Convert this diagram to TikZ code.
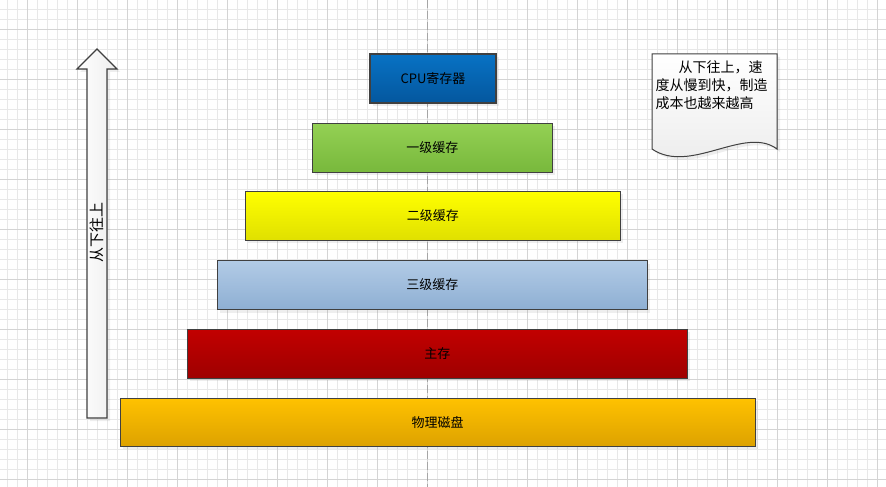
\documentclass[tikz,border=0pt]{standalone}
\usepackage{fontspec}
\setmainfont{Noto Sans CJK SC}
\usetikzlibrary{shadows}

\definecolor{regTop}{HTML}{0872C4}
\definecolor{regBottom}{HTML}{04579E}
\definecolor{oneTop}{HTML}{94D154}
\definecolor{oneBottom}{HTML}{78B83C}
\definecolor{twoTop}{HTML}{FFFF00}
\definecolor{twoBottom}{HTML}{E0E000}
\definecolor{threeTop}{HTML}{B2CBE6}
\definecolor{threeBottom}{HTML}{8EAFD3}
\definecolor{memTop}{HTML}{C20000}
\definecolor{memBottom}{HTML}{9E0000}
\definecolor{diskTop}{HTML}{FFC200}
\definecolor{diskBottom}{HTML}{DDA200}
\definecolor{edgeGray}{HTML}{404040}

\begin{document}
\begin{tikzpicture}[x = 1pt, y = -1pt]
\tikzstyle{gridStyle} = [draw = black!9, line width = 0.8pt]
\tikzstyle{majorGridStyle} = [draw = black!17, line width = 0.8pt]
\tikzstyle{levelStyle} = [shape = rectangle, draw = edgeGray, line width = 1.2pt, minimum height = 49pt, inner sep = 0pt, font = \fontsize{13pt}{15pt}\selectfont, drop shadow = {shadow xshift = 3pt, shadow yshift = -3pt, opacity = 0.13}]
\tikzstyle{arrowStyle} = [draw = edgeGray, line width = 1.2pt, left color = white, right color = black!7, drop shadow = {shadow xshift = 3pt, shadow yshift = -3pt, opacity = 0.13}]
\tikzstyle{noteStyle} = [draw = edgeGray, line width = 1pt, top color = white, bottom color = black!8, drop shadow = {shadow xshift = 3pt, shadow yshift = -3pt, opacity = 0.13}]
\useasboundingbox (0,0) rectangle (886,487);
\fill[white] (0,0) rectangle (886,487);
% grid
\foreach \x in {7,17,...,887} \draw[gridStyle] (\x,0) -- (\x,487);
\foreach \y in {9,19,...,479} \draw[gridStyle] (0,\y) -- (886,\y);
\foreach \x in {27,77,...,877} \draw[majorGridStyle] (\x,0) -- (\x,487);
\foreach \y in {29,79,...,479} \draw[majorGridStyle] (0,\y) -- (886,\y);
\draw[black!35, line width = 1pt, dash pattern = on 8pt off 3pt] (427,0) -- (427,487);
% levels
\node[levelStyle, minimum width = 126pt, top color = regTop, bottom color = regBottom] (reg) at (433, 78.5) {CPU寄存器};
\node[levelStyle, minimum width = 240pt, top color = oneTop, bottom color = oneBottom] (cacheOne) at (432.3, 147.6) {一级缓存};
\node[levelStyle, minimum width = 375pt, top color = twoTop, bottom color = twoBottom] (cacheTwo) at (432.8, 215.6) {二级缓存};
\node[levelStyle, minimum width = 430pt, top color = threeTop, bottom color = threeBottom] (cacheThree) at (432.3, 285) {三级缓存};
\node[levelStyle, minimum width = 500pt, top color = memTop, bottom color = memBottom] (mem) at (437.3, 353.8) {主存};
\node[levelStyle, minimum width = 635pt, minimum height = 48pt, top color = diskTop, bottom color = diskBottom] (disk) at (437.7, 422.2) {物理磁盘};
% up arrow
\draw[arrowStyle] (87,418) -- (87,69) -- (77,69) -- (97,49) -- (117,69) -- (107,69) -- (107,418) -- cycle;
\node[rotate = 90, font = \fontsize{15pt}{17pt}\selectfont] (upText) at (97,232) {从下往上};
% note
\path[noteStyle] (652,54) -- (777,54) -- (777,149) .. controls (745,125) and (690,175) .. (652,149) -- cycle;
\node[anchor = north west, inner sep = 0pt, align = left, font = \fontsize{14pt}{18pt}\selectfont] (noteText) at (655.5,60) {\hspace*{23pt}从下往上，速\\度从慢到快，制造\\成本也越来越高};
\end{tikzpicture}
\end{document}
